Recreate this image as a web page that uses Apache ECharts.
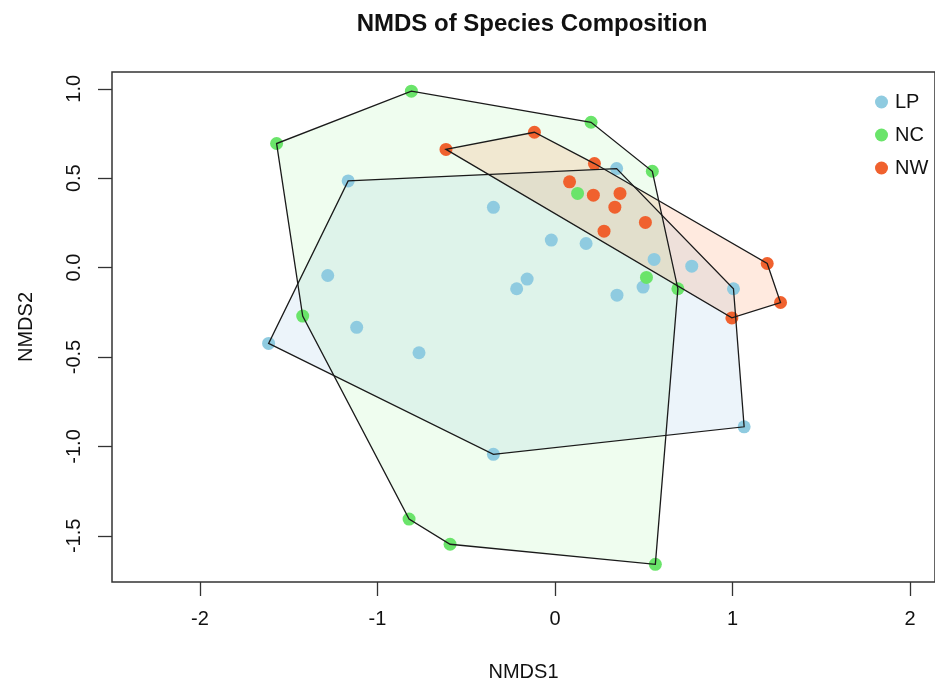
<!DOCTYPE html>
<html>
<head>
<meta charset="utf-8">
<script src="https://cdn.jsdelivr.net/npm/echarts@6/dist/echarts.min.js"></script>
<style>
  html, body { margin: 0; padding: 0; background: #fff; }
  #chart { width: 935px; height: 688px; }
</style>
</head>
<body>
<div id="chart"></div>
<script>
const groups = ['LP', 'NC', 'NW']
const pointColors = ['#8fcbe0', '#6ae46a', '#f0612e']
const fillColors = ['rgba(135,185,225,0.16)', 'rgba(144,238,144,0.14)', 'rgba(255,90,10,0.13)']

const lpX = [-1.613, -1.165, -0.347, -1.280, -1.117, -0.766, -0.347, -0.021, 0.175, 0.347, 0.558, 0.770, -0.157, -0.216, 0.349, 0.496, 1.005, 1.065]
const lpY = [-0.424, 0.485, 0.337, -0.044, -0.334, -0.476, -1.044, 0.154, 0.135, 0.554, 0.046, 0.008, -0.064, -0.118, -0.154, -0.109, -0.118, -0.890]
const ncX = [-0.809, -1.568, -1.421, 0.203, 0.548, 0.127, 0.515, 0.692, -0.822, -0.591, 0.565]
const ncY = [0.987, 0.694, -0.271, 0.813, 0.539, 0.415, -0.055, -0.118, -1.406, -1.547, -1.659]
const nwX = [-0.614, -0.116, 0.222, 0.082, 0.216, 0.366, 0.337, 0.509, 0.276, 1.195, 1.270, 0.996]
const nwY = [0.661, 0.757, 0.582, 0.480, 0.405, 0.415, 0.338, 0.253, 0.204, 0.023, -0.195, -0.281]

const xTicks = [-2, -1, 0, 1, 2]
const yTicks = [-1.5, -1.0, -0.5, 0.0, 0.5, 1.0]

const font = '"Liberation Sans", Arial, Helvetica, sans-serif'

// zip x/y into points
function pts (xs, ys) {
  return xs.map((x, i) => [x, ys[i]])
}

// monotone chain convex hull
function hull (points) {
  const p = points.slice().sort((a, b) => a[0] - b[0] || a[1] - b[1])
  const cross = (o, a, b) => (a[0] - o[0]) * (b[1] - o[1]) - (a[1] - o[1]) * (b[0] - o[0])
  const lower = []
  p.forEach(q => {
    while (lower.length >= 2 && cross(lower[lower.length - 2], lower[lower.length - 1], q) <= 0) lower.pop()
    lower.push(q)
  })
  const upper = []
  p.slice().reverse().forEach(q => {
    while (upper.length >= 2 && cross(upper[upper.length - 2], upper[upper.length - 1], q) <= 0) upper.pop()
    upper.push(q)
  })
  upper.pop()
  lower.pop()
  return lower.concat(upper)
}

const groupPoints = [pts(lpX, lpY), pts(ncX, ncY), pts(nwX, nwY)]

const scatterSeries = groups.map((g, i) => ({
  name: g,
  type: 'scatter',
  symbol: 'circle',
  symbolSize: 13,
  z: 2,
  itemStyle: { color: pointColors[i], opacity: 1 },
  data: groupPoints[i]
}))

// hull fill goes under the points, outline on top of them
function hullSeries (outline) {
  return groups.map((g, i) => {
    const h = hull(groupPoints[i])
    return {
      name: g + (outline ? ' hull line' : ' hull fill'),
      type: 'custom',
      z: outline ? 3 : 1,
      silent: true,
      data: h,
      renderItem: function (params, api) {
        if (params.dataIndex !== 0) return null
        return {
          type: 'polygon',
          shape: { points: h.map(p => api.coord(p)) },
          style: outline
            ? { fill: 'none', stroke: '#1a1a1a', lineWidth: 1.3 }
            : { fill: fillColors[i], stroke: 'none' }
        }
      }
    }
  })
}

const chart = echarts.init(document.getElementById('chart'))
chart.setOption({
  animation: false,
  backgroundColor: '#fff',
  title: {
    text: 'NMDS of Species Composition',
    left: 527,
    top: 7,
    textAlign: 'center',
    textStyle: { fontFamily: font, fontSize: 24, fontWeight: 'bold', color: '#111' }
  },
  legend: {
    data: groups,
    orient: 'vertical',
    left: 870,
    top: 87,
    icon: 'circle',
    itemWidth: 13,
    itemHeight: 13,
    itemGap: 13,
    textStyle: { fontFamily: font, fontSize: 20, color: '#111', padding: [0, 0, 0, 2] }
  },
  grid: {
    left: 112,
    top: 72,
    right: -6,
    bottom: 106,
    show: true,
    borderColor: '#333',
    borderWidth: 1.5,
    backgroundColor: 'transparent'
  },
  xAxis: {
    type: 'value',
    position: 'bottom',
    min: -2.495,
    max: 2.14,
    name: 'NMDS1',
    nameLocation: 'middle',
    nameGap: 80,
    nameTextStyle: { fontFamily: font, fontSize: 20, color: '#111' },
    axisLine: { show: false, onZero: false },
    splitLine: { show: false },
    axisTick: { show: true, length: 14, inside: false, customValues: xTicks, lineStyle: { color: '#333', width: 1.3 } },
    axisLabel: { customValues: xTicks, margin: 27, fontFamily: font, fontSize: 20, color: '#111', formatter: v => String(v) }
  },
  yAxis: {
    type: 'value',
    position: 'left',
    min: -1.758,
    max: 1.094,
    name: 'NMDS2',
    nameLocation: 'middle',
    nameGap: 76,
    nameRotate: 90,
    nameTextStyle: { fontFamily: font, fontSize: 20, color: '#111' },
    axisLine: { show: false, onZero: false },
    splitLine: { show: false },
    axisTick: { show: true, length: 14, inside: false, customValues: yTicks, lineStyle: { color: '#333', width: 1.3 } },
    axisLabel: { customValues: yTicks, rotate: 90, margin: 28, fontFamily: font, fontSize: 20, color: '#111', formatter: v => v.toFixed(1) }
  },
  series: hullSeries(false).concat(scatterSeries, hullSeries(true))
})
</script>
</body>
</html>
